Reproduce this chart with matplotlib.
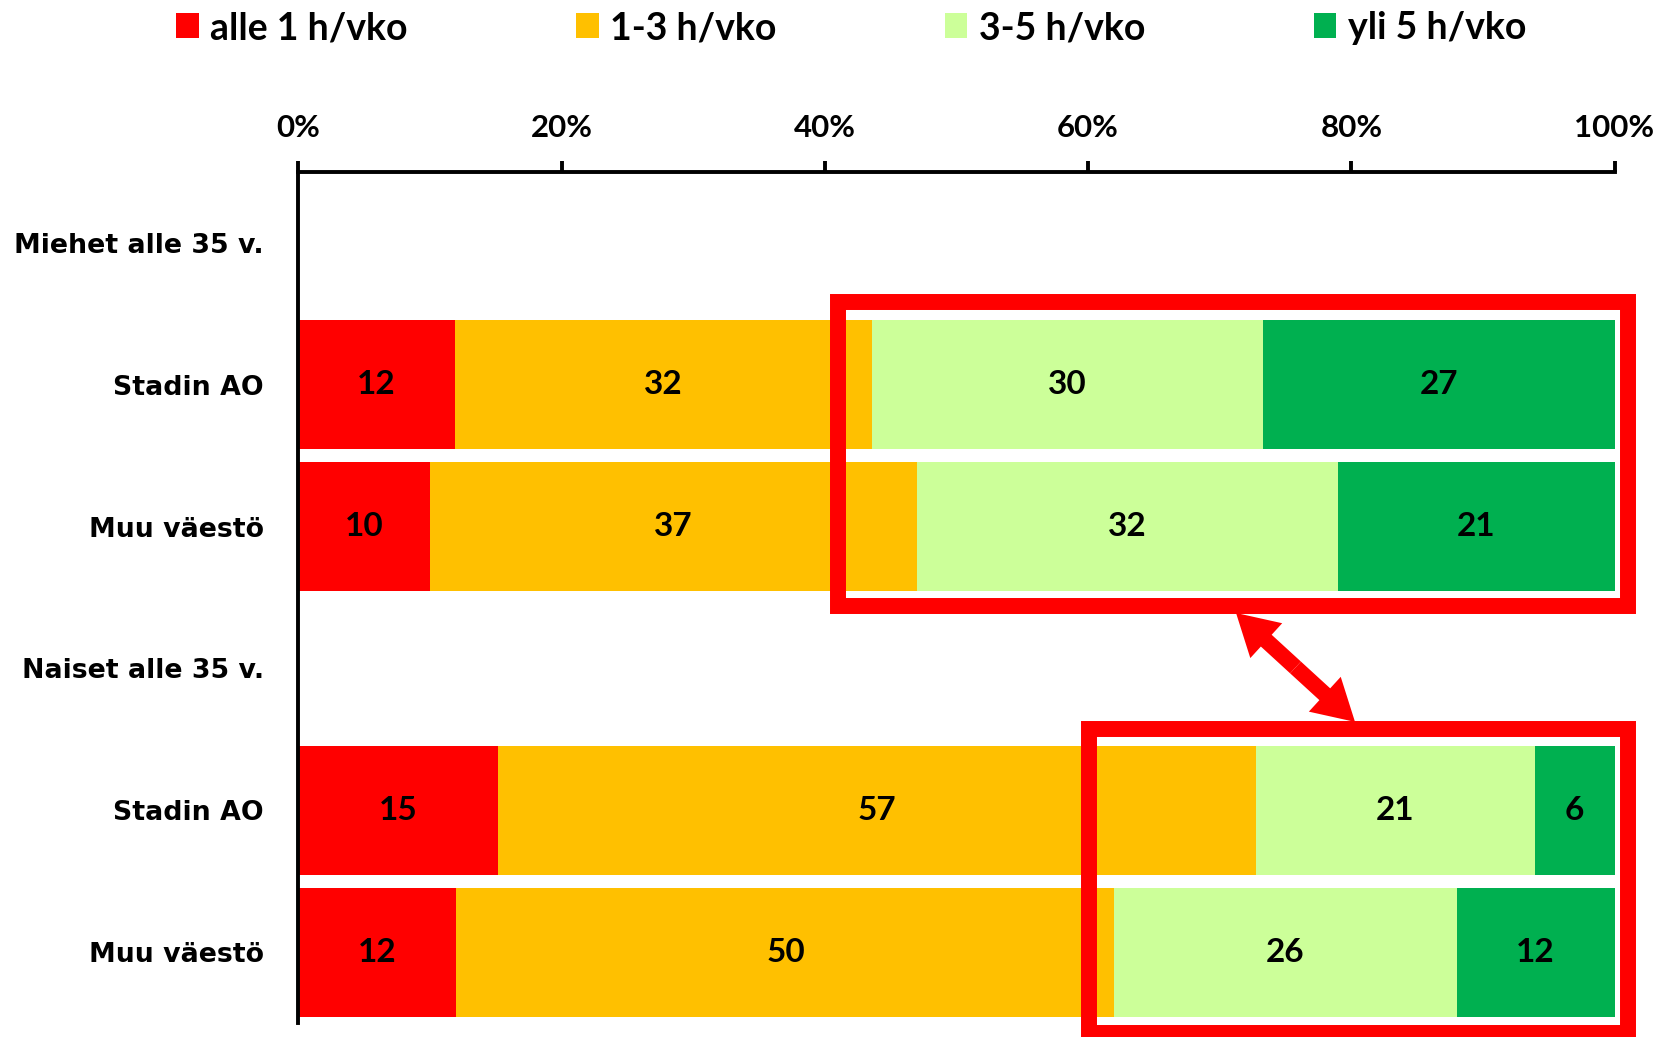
import matplotlib
matplotlib.use("Agg")
import matplotlib.pyplot as plt
import numpy as np
from matplotlib.patches import Patch, Rectangle, FancyArrowPatch, ArrowStyle

# Row labels (top to bottom); group header rows carry no bars
row_labels = ["Miehet alle 35 v.", "Stadin AO", "Muu väestö",
              "Naiset alle 35 v.", "Stadin AO", "Muu väestö"]

series_names = ["alle 1 h/vko", "1-3 h/vko", "3-5 h/vko", "yli 5 h/vko"]
series_colors = ["#FF0000", "#FFC000", "#CCFF99", "#00B050"]

# Percentages per row for each activity class (None = header row)
alle_1 = [None, 12, 10, None, 15, 12]
h_1_3 = [None, 32, 37, None, 57, 50]
h_3_5 = [None, 30, 32, None, 21, 26]
yli_5 = [None, 27, 21, None, 6, 12]

tick_values = [0, 20, 40, 60, 80, 100]
tick_labels = ["0%", "20%", "40%", "60%", "80%", "100%"]

LABEL_FONT = "Lato"
CAT_FONT = "DejaVu Sans"

fig = plt.figure(figsize=(16.75, 10.37), dpi=100)
ax = fig.add_axes([0.1782, 0.0135, 0.7857, 0.8206])

series = [alle_1, h_1_3, h_3_5, yli_5]
rows = [i for i, v in enumerate(alle_1) if v is not None]
raw = np.array([[s[i] for s in series] for i in rows], dtype=float)
share = raw / raw.sum(axis=1, keepdims=True) * 100.0

left = np.zeros(len(rows))
for k, (name, color) in enumerate(zip(series_names, series_colors)):
    bars = ax.barh(rows, share[:, k], left=left, height=0.91,
                   color=color, linewidth=0, label=name)
    ax.bar_label(bars, labels=[f"{int(v)}" for v in raw[:, k]],
                 label_type="center", fontsize=24, fontweight="bold",
                 fontfamily=LABEL_FONT, color="black")
    left += share[:, k]

ax.set_xlim(0, 100)
ax.set_ylim(5.5, -0.5)
ax.set_yticks(range(len(row_labels)))
ax.set_yticklabels(row_labels, fontsize=19.3, fontweight="bold",
                   fontfamily=CAT_FONT)
ax.tick_params(axis="y", length=0, pad=25)

ax.xaxis.tick_top()
ax.set_xticks(tick_values)
ax.set_xticklabels(tick_labels, fontsize=22.5, fontweight="bold",
                   fontfamily=LABEL_FONT)
ax.tick_params(axis="x", direction="out", length=8, width=2.8, pad=13.5,
               top=True, bottom=False)

for side in ["right", "bottom"]:
    ax.spines[side].set_visible(False)
for side in ["top", "left"]:
    ax.spines[side].set_linewidth(2.8)
    ax.spines[side].set_color("black")

# Highlight frames around the 3-5 and 5+ h/week shares
frame_kw = dict(fill=False, edgecolor="#FF0000", linewidth=11.5,
                joinstyle="miter", clip_on=False, zorder=5)
ax.add_patch(Rectangle((41.0, 0.419), 101.0 - 41.0, 2.563 - 0.419, **frame_kw))
ax.add_patch(Rectangle((60.07, 3.426), 101.0 - 60.07, 5.574 - 3.426, **frame_kw))

# Double-headed arrow linking the two frames
tip_a = (71.24, 2.609)
tip_b = (80.28, 3.377)
mid = ((tip_a[0] + tip_b[0]) / 2, (tip_a[1] + tip_b[1]) / 2)
style = ArrowStyle.Simple(head_length=29.5, head_width=34, tail_width=11.5)
for tip in (tip_a, tip_b):
    ax.add_patch(FancyArrowPatch(mid, tip, arrowstyle=style, mutation_scale=1,
                                 color="#FF0000", linewidth=0, shrinkA=0,
                                 shrinkB=0, clip_on=False, zorder=6))

handles = [Patch(facecolor=c, edgecolor="none") for c in series_colors]
fig.legend(handles, series_names, loc="upper left",
           bbox_to_anchor=(176 / 1675, 1 - 11 / 1037), ncol=4, frameon=False,
           borderpad=0, borderaxespad=0, handlelength=0.6, handleheight=0.64,
           handletextpad=0.3, columnspacing=4.5,
           prop={"family": LABEL_FONT, "weight": "bold", "size": 27})

fig.savefig("out.png", dpi=100, facecolor="white")
